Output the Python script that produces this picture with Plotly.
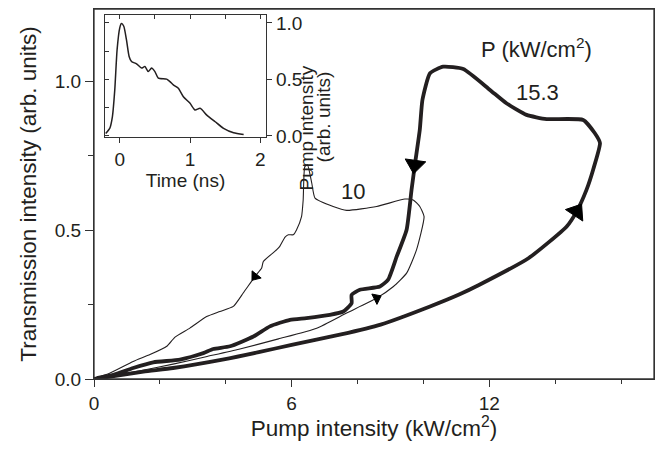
import plotly.graph_objects as go

# ---------------- data ----------------
# thick loop, P = 15.3 kW/cm^2 (pump intensity, transmission)
p153_x = [0.0, 0.5, 1.5, 2.4, 3.9, 5.0, 6.0, 7.5, 8.7, 10.2, 11.1, 11.7, 13.2, 14.35, 14.65,
          14.95, 15.15, 15.36, 15.20, 14.85, 13.74, 13.13, 12.52, 12.02, 11.21, 10.60, 10.20,
          9.97, 9.89, 9.74, 9.64, 9.49, 9.19, 8.93, 8.68, 8.07, 7.82, 7.82, 7.57, 7.16, 6.45,
          5.95, 5.34, 4.84, 4.13, 3.62, 3.32, 2.61, 1.80, 1.19, 0.59, 0.08]
p153_y = [0.0, 0.008, 0.025, 0.037, 0.065, 0.090, 0.115, 0.150, 0.183, 0.244, 0.285, 0.317, 0.407,
          0.513, 0.563, 0.636, 0.703, 0.793, 0.827, 0.871, 0.874, 0.888, 0.927, 0.972, 1.042,
          1.050, 1.028, 0.938, 0.838, 0.720, 0.636, 0.502, 0.412, 0.334, 0.311, 0.300, 0.283,
          0.255, 0.227, 0.216, 0.205, 0.199, 0.177, 0.143, 0.110, 0.101, 0.087, 0.065, 0.056,
          0.037, 0.014, 0.003]

# thin loop, P = 10 kW/cm^2
p10_x = [0.0, 0.4, 1.4, 2.4, 3.4, 4.4, 5.6, 6.76, 7.67, 8.58, 9.09, 9.49, 9.79, 10.02, 9.89,
         9.69, 9.44, 8.58, 7.67, 7.26, 6.71, 6.61, 6.48, 6.40, 6.35, 6.30, 6.15, 6.05, 5.90,
         5.80, 5.64, 5.54, 5.14, 5.09, 4.89, 4.53, 4.23, 3.82, 3.42, 2.91, 2.46, 2.21, 1.70,
         1.19, 0.49, 0.0]
p10_y = [0.0, 0.008, 0.028, 0.050, 0.075, 0.100, 0.135, 0.171, 0.222, 0.272, 0.311, 0.356, 0.434,
         0.546, 0.580, 0.602, 0.605, 0.580, 0.567, 0.580, 0.608, 0.659, 0.720, 0.714, 0.602,
         0.546, 0.502, 0.485, 0.485, 0.477, 0.446, 0.434, 0.395, 0.373, 0.345, 0.289, 0.244,
         0.227, 0.210, 0.171, 0.141, 0.110, 0.082, 0.059, 0.020, 0.0]

# arrow positions (indices into the curves)
p153_arrows = [14, 29]
p10_arrows = [9, 34]

# inset: pump pulse
pulse_t = [-0.20, -0.143, -0.105, -0.071, -0.038, 0.0, 0.024, 0.057, 0.095, 0.133, 0.167, 0.238,
           0.310, 0.357, 0.405, 0.452, 0.50, 0.548, 0.667, 0.714, 0.762, 0.833, 0.905, 1.0,
           1.071, 1.143, 1.238, 1.357, 1.476, 1.619, 1.762]
pulse_i = [0.021, 0.066, 0.169, 0.407, 0.762, 0.956, 0.994, 0.970, 0.851, 0.703, 0.658, 0.638,
           0.600, 0.614, 0.569, 0.600, 0.569, 0.511, 0.502, 0.480, 0.451, 0.422, 0.347, 0.288,
           0.229, 0.244, 0.184, 0.125, 0.066, 0.027, 0.012]

x_ticks = [0, 6, 12]
y_ticks = [0.0, 0.5, 1.0]
y_ticklabels = ["0.0", "0.5", "1.0"]
inset_x_ticks = [0, 1, 2]
inset_y_ticks = [0.0, 0.5, 1.0]

X_RANGE = [0, 17]
Y_RANGE = [0, 1.244]
IX_RANGE = [-0.21, 2.08]
IY_RANGE = [-0.009, 1.07]

INK = "#231f20"
AX = "#333333"
FONT = "Liberation Sans, Arial, sans-serif"

# page body has an 8px default margin; keep the figure inside the 668x449 window
OFF = 8.0
FIG_W, FIG_H = 668 - 2 * OFF, 449 - 2 * OFF
# plot area in window pixels: x 94..654, y 9..379.3
PL, PT, PW, PH = 94.0, 9.0, 560.0, 370.3


def px2paper(px, py):
    return (px - PL) / PW, (PT + PH - py) / PH


fig = go.Figure()

fig.add_trace(go.Scatter(x=p10_x, y=p10_y, mode="lines",
                         line=dict(color=INK, width=1.1, shape="spline", smoothing=0.5),
                         showlegend=False, hoverinfo="skip"))
fig.add_trace(go.Scatter(x=p153_x, y=p153_y, mode="lines",
                         line=dict(color=INK, width=3.8, shape="spline", smoothing=0.5),
                         showlegend=False, hoverinfo="skip"))

for xs, ys, idxs, sz in [(p153_x, p153_y, p153_arrows, 18), (p10_x, p10_y, p10_arrows, 10)]:
    for i in idxs:
        fig.add_trace(go.Scatter(x=[xs[i - 1], xs[i]], y=[ys[i - 1], ys[i]], mode="markers",
                                 marker=dict(symbol="triangle-up", size=[0, sz], color="black",
                                             opacity=1, angleref="previous",
                                             line=dict(width=1, color="black")),
                                 showlegend=False, hoverinfo="skip"))

fig.add_trace(go.Scatter(x=pulse_t, y=pulse_i, mode="lines", xaxis="x2", yaxis="y2",
                         line=dict(color=INK, width=1.5, shape="spline", smoothing=0.6),
                         showlegend=False, hoverinfo="skip"))

# invisible trace so that the inset's inside-tick axes are drawn
fig.add_trace(go.Scatter(x=[IX_RANGE[0]], y=[IY_RANGE[0]], xaxis="x4", yaxis="y4", mode="markers",
                         marker=dict(opacity=0), showlegend=False, hoverinfo="skip"))

axis_common = dict(showgrid=False, zeroline=False, showline=True, linecolor=AX,
                   linewidth=1.3, tickcolor=AX, tickwidth=1.3, automargin=False,
                   tickfont=dict(family=FONT, size=19, color=INK))

ix0, iy1 = px2paper(105, 15)
ix1, iy0 = px2paper(266, 137)

fig.update_layout(
    width=FIG_W, height=FIG_H,
    margin=dict(l=PL - OFF, r=FIG_W - (PL - OFF) - PW, t=PT - OFF,
                b=FIG_H - (PT + PH - OFF)),
    paper_bgcolor="white", plot_bgcolor="rgba(0,0,0,0)",
    font=dict(family=FONT, color=INK),
    xaxis=dict(range=X_RANGE, tickvals=x_ticks, ticks="outside", ticklen=7, mirror=True,
               minor=dict(dtick=2, tick0=0, ticks="outside", ticklen=4, tickcolor=AX,
                          tickwidth=1.2),
               title=dict(text="Pump intensity (kW/cm<sup>2</sup>)",
                          font=dict(family=FONT, size=22.5, color=INK), standoff=9),
               **axis_common),
    yaxis=dict(range=Y_RANGE, tickvals=y_ticks, ticktext=y_ticklabels, ticks="outside",
               ticklen=8, mirror=True,
               minor=dict(dtick=0.25, tick0=0, ticks="outside", ticklen=5, tickcolor=AX,
                          tickwidth=1.2),
               title=dict(text="Transmission intensity (arb. units)",
                          font=dict(family=FONT, size=22.5, color=INK), standoff=11),
               **axis_common),
    xaxis2=dict(domain=[ix0, ix1], anchor="y2", range=IX_RANGE, mirror=True,
                tickvals=inset_x_ticks, ticks="outside", ticklen=5,
                title=dict(text="Time (ns)", font=dict(family=FONT, size=19, color=INK),
                           standoff=2),
                **axis_common),
    yaxis2=dict(domain=[iy0, iy1], anchor="x2", side="right", range=IY_RANGE, mirror=True,
                tickvals=inset_y_ticks, ticktext=y_ticklabels, ticks="outside", ticklen=5,
                **axis_common),
    xaxis4=dict(overlaying="x2", side="top", anchor="y2", range=IX_RANGE, dtick=0.5,
                tick0=0, ticks="inside", ticklen=4, showticklabels=False, **axis_common),
    yaxis4=dict(overlaying="y2", side="left", anchor="x2", range=IY_RANGE, dtick=0.25,
                tick0=0, ticks="inside", ticklen=4, showticklabels=False, **axis_common),
)

# frame around the main plot area
fig.add_shape(type="rect", xref="paper", yref="paper", x0=0, x1=1, y0=0, y1=1,
              line=dict(color=AX, width=1.3), fillcolor="rgba(0,0,0,0)", layer="above")

ann_font = dict(family=FONT, size=22, color=INK)
fig.add_annotation(x=13.44, y=1.113, xref="x", yref="y", text="P (kW/cm<sup>2</sup>)",
                   showarrow=False, font=ann_font)
fig.add_annotation(x=13.46, y=0.962, xref="x", yref="y", text="15.3", showarrow=False,
                   font=ann_font)
fig.add_annotation(x=7.85, y=0.629, xref="x", yref="y", text="10", showarrow=False,
                   font=ann_font)
ax1, ay1 = px2paper(306, 64)
ax2, ay2 = px2paper(323, 70)
fig.add_annotation(x=ax1, y=ay1, xref="paper", yref="paper",
                   text="Pump intensity", textangle=-90, showarrow=False,
                   font=dict(family=FONT, size=19, color=INK))
fig.add_annotation(x=ax2, y=ay2, xref="paper", yref="paper",
                   text="(arb. units)", textangle=-90, showarrow=False,
                   font=dict(family=FONT, size=19, color=INK))

fig.write_html("out.html")
